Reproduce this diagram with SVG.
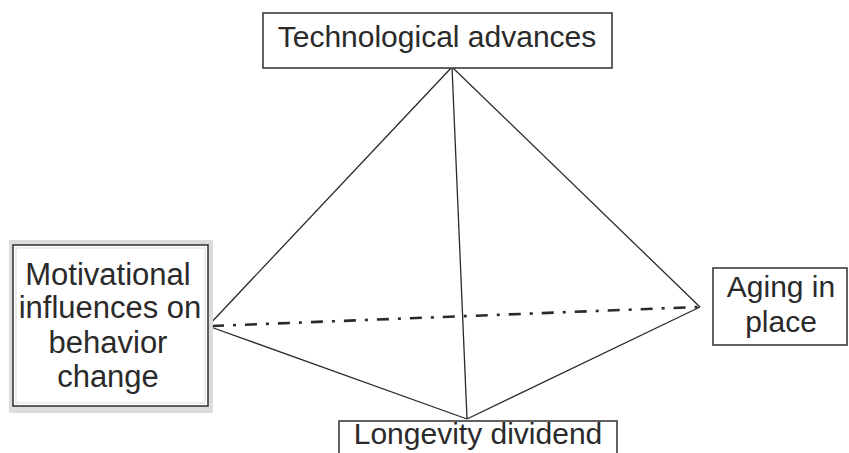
<svg xmlns="http://www.w3.org/2000/svg" width="849" height="453" viewBox="0 0 849 453">
<style>
.box{fill:#fff;stroke:#3a3a3a;stroke-width:1.6}
.t{font-family:"Liberation Sans",Arial,sans-serif;font-size:30px;fill:#2a2a2a;text-anchor:middle}
.edge{stroke:#2a2a2a;stroke-width:1.3;fill:none}
.dd{stroke:#2a2a2a;stroke-width:2.6;fill:none;stroke-dasharray:12 9 3 9}
</style>
<rect width="849" height="453" fill="#fff"/>
<g id="connectors">
<line class="edge" x1="452" y1="67" x2="208" y2="326"/>
<line class="edge" x1="452" y1="67" x2="700" y2="307"/>
<line class="edge" x1="452" y1="67" x2="467" y2="419"/>
<line class="edge" x1="208" y1="326" x2="467" y2="419"/>
<line class="edge" x1="700" y1="307" x2="467" y2="419"/>
<line class="dd" x1="212" y1="326" x2="698" y2="307"/>
</g>
<g id="technological">
<rect class="box" x="263" y="13" width="349" height="55"/>
<text class="t" x="437" y="47">Technological advances</text>
</g>
<g id="motivational">
<rect x="9" y="240" width="204" height="173" fill="#dcdcdc"/>
<rect class="box" x="13" y="245" width="195" height="161"/>
<rect x="16" y="248" width="189" height="155" fill="none" stroke="#ebebeb" stroke-width="2"/>
<text class="t" x="108" y="285" style="font-size:31px">Motivational</text>
<text class="t" x="110" y="318" style="font-size:31px">influences on</text>
<text class="t" x="108" y="353" style="font-size:31px">behavior</text>
<text class="t" x="108" y="387" style="font-size:31px">change</text>
</g>
<g id="aging">
<rect class="box" x="713" y="268" width="134" height="77"/>
<text class="t" x="781" y="297">Aging in</text>
<text class="t" x="781" y="332">place</text>
</g>
<g id="longevity">
<rect class="box" x="339" y="421" width="278" height="40"/>
<text class="t" x="478" y="444">Longevity dividend</text>
</g>
</svg>
